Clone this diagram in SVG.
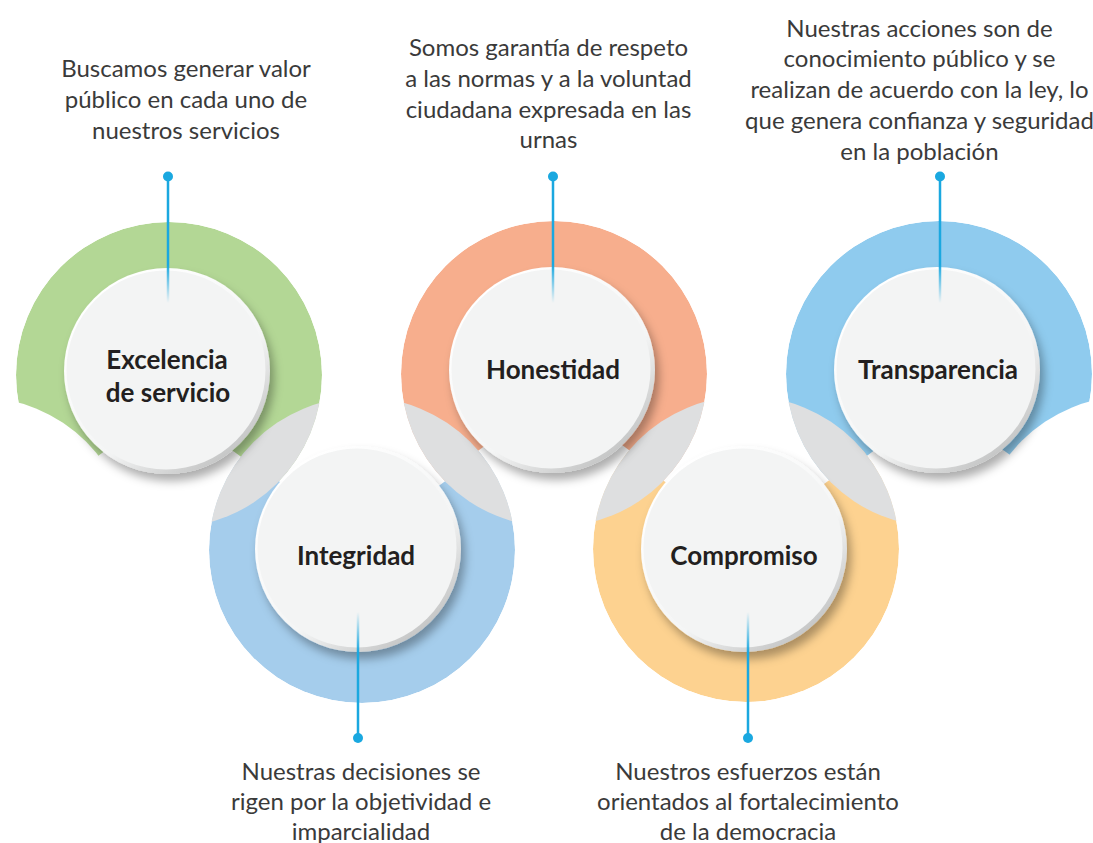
<svg xmlns="http://www.w3.org/2000/svg" width="1093" height="843" viewBox="0 0 1093 843">
<defs>
<style>
.desc{font-family:Lato,"Open Sans",sans-serif;font-size:24px;fill:#3a3a3a;text-anchor:middle}
.lbl{font-family:Lato,"Open Sans",sans-serif;font-size:26px;font-weight:700;fill:#231f20;text-anchor:middle}
.lens{fill:#dedfe0}
.dot{fill:#1aa8e0}
.disc{fill:url(#rim);filter:url(#sh)}
.face{fill:#f3f4f4}
</style>
<filter id="sh" x="-30%" y="-30%" width="160%" height="160%">
<feDropShadow dx="4" dy="7" stdDeviation="5" flood-color="#000" flood-opacity="0.32"/>
</filter>
<linearGradient id="rim" x1="0.2" y1="0.1" x2="0.85" y2="0.95">
<stop offset="0" stop-color="#ffffff"/>
<stop offset="0.6" stop-color="#f4f5f5"/>
<stop offset="1" stop-color="#bdbebe"/>
</linearGradient>
<linearGradient id="fadeDown" x1="0" y1="0" x2="0" y2="1">
<stop offset="0" stop-color="#1aa8e0"/>
<stop offset="0.7" stop-color="#1aa8e0"/>
<stop offset="1" stop-color="#1aa8e0" stop-opacity="0"/>
</linearGradient>
<linearGradient id="fadeUp" x1="0" y1="1" x2="0" y2="0">
<stop offset="0" stop-color="#1aa8e0"/>
<stop offset="0.68" stop-color="#1aa8e0"/>
<stop offset="1" stop-color="#1aa8e0" stop-opacity="0"/>
</linearGradient>
<mask id="mG" maskUnits="userSpaceOnUse" x="0" y="0" width="1093" height="843">
<circle cx="169" cy="375" r="153" fill="#fff"/>
<circle cx="-22" cy="550" r="153" fill="#000"/>
<circle cx="169" cy="550" r="118" fill="#000"/>
</mask>
<mask id="mO" maskUnits="userSpaceOnUse" x="0" y="0" width="1093" height="843">
<circle cx="554" cy="374" r="153" fill="#fff"/>
<circle cx="554" cy="550" r="125" fill="#000"/>
</mask>
<mask id="mS" maskUnits="userSpaceOnUse" x="0" y="0" width="1093" height="843">
<circle cx="939" cy="374" r="153" fill="#fff"/>
<circle cx="1130" cy="549" r="153" fill="#000"/>
<circle cx="939" cy="549" r="118" fill="#000"/>
</mask>
<mask id="mB" maskUnits="userSpaceOnUse" x="0" y="0" width="1093" height="843">
<circle cx="362" cy="550" r="153" fill="#fff"/>
<circle cx="362" cy="375" r="135" fill="#000"/>
</mask>
<mask id="mY" maskUnits="userSpaceOnUse" x="0" y="0" width="1093" height="843">
<circle cx="746" cy="549" r="153" fill="#fff"/>
<circle cx="746" cy="374" r="135" fill="#000"/>
</mask>
<clipPath id="cG"><circle cx="169" cy="375" r="153"/></clipPath>
<clipPath id="cO"><circle cx="554" cy="374" r="153"/></clipPath>
<clipPath id="cS"><circle cx="939" cy="374" r="153"/></clipPath>
</defs>
<rect width="1093" height="843" fill="#fff"/>

<g id="rings">
<circle cx="169" cy="375" r="153" fill="#b3d795" mask="url(#mG)"/>
<circle cx="554" cy="374" r="153" fill="#f7ae8d" mask="url(#mO)"/>
<circle cx="939" cy="374" r="153" fill="#8fcbee" mask="url(#mS)"/>
<circle cx="362" cy="550" r="153" fill="#a5cdec" mask="url(#mB)"/>
<circle cx="746" cy="549" r="153" fill="#fdd290" mask="url(#mY)"/>
<circle class="lens" cx="362" cy="550" r="153" clip-path="url(#cG)"/>
<circle class="lens" cx="362" cy="550" r="153" clip-path="url(#cO)"/>
<circle class="lens" cx="746" cy="549" r="153" clip-path="url(#cO)"/>
<circle class="lens" cx="746" cy="549" r="153" clip-path="url(#cS)"/>
</g>

<g id="node-excelencia">
<circle class="disc" cx="167" cy="371" r="103"/>
<circle class="face" cx="166" cy="370" r="99.5"/>
<text class="lbl" x="167" y="369">Excelencia</text>
<text class="lbl" x="168" y="401.5">de servicio</text>
<text class="desc" x="186" y="77">Buscamos generar valor</text>
<text class="desc" x="186" y="108">público en cada uno de</text>
<text class="desc" x="186" y="138.5">nuestros servicios</text>
</g>

<g id="node-honestidad">
<circle class="disc" cx="552" cy="370" r="103"/>
<circle class="face" cx="551" cy="369" r="99.5"/>
<text class="lbl" x="553" y="379">Honestidad</text>
<text class="desc" x="548.5" y="56">Somos garantía de respeto</text>
<text class="desc" x="548.5" y="87">a las normas y a la voluntad</text>
<text class="desc" x="548.5" y="117.5">ciudadana expresada en las</text>
<text class="desc" x="548.5" y="148">urnas</text>
</g>

<g id="node-transparencia">
<circle class="disc" cx="937" cy="370" r="103"/>
<circle class="face" cx="936" cy="369" r="99.5"/>
<text class="lbl" x="938" y="379">Transparencia</text>
<text class="desc" x="919.5" y="36.5">Nuestras acciones son de</text>
<text class="desc" x="919.5" y="67">conocimiento público y se</text>
<text class="desc" x="919.5" y="98">realizan de acuerdo con la ley, lo</text>
<text class="desc" x="919.5" y="128.5">que genera confianza y seguridad</text>
<text class="desc" x="919.5" y="159.5">en la población</text>
</g>

<g id="node-integridad">
<circle class="disc" cx="358" cy="549" r="103"/>
<circle class="face" cx="357" cy="548" r="99.5"/>
<text class="lbl" x="356" y="565">Integridad</text>
<text class="desc" x="361" y="780">Nuestras decisiones se</text>
<text class="desc" x="361" y="810">rigen por la objetividad e</text>
<text class="desc" x="361" y="840">imparcialidad</text>
</g>

<g id="node-compromiso">
<circle class="disc" cx="744" cy="549" r="103"/>
<circle class="face" cx="743" cy="548" r="99.5"/>
<text class="lbl" x="744" y="565">Compromiso</text>
<text class="desc" x="748" y="780">Nuestros esfuerzos están</text>
<text class="desc" x="748" y="810">orientados al fortalecimiento</text>
<text class="desc" x="748" y="840">de la democracia</text>
</g>

<g id="connectors">
<rect x="166.75" y="176" width="2.5" height="127" fill="url(#fadeDown)"/>
<circle class="dot" cx="168" cy="176.5" r="5"/>
<rect x="551.75" y="176" width="2.5" height="127" fill="url(#fadeDown)"/>
<circle class="dot" cx="553" cy="176.5" r="5"/>
<rect x="938.75" y="176" width="2.5" height="127" fill="url(#fadeDown)"/>
<circle class="dot" cx="940" cy="176.5" r="5"/>
<rect x="356.75" y="612" width="2.5" height="126" fill="url(#fadeUp)"/>
<circle class="dot" cx="358" cy="738" r="5"/>
<rect x="746.75" y="612" width="2.5" height="126" fill="url(#fadeUp)"/>
<circle class="dot" cx="748" cy="738" r="5"/>
</g>
</svg>
